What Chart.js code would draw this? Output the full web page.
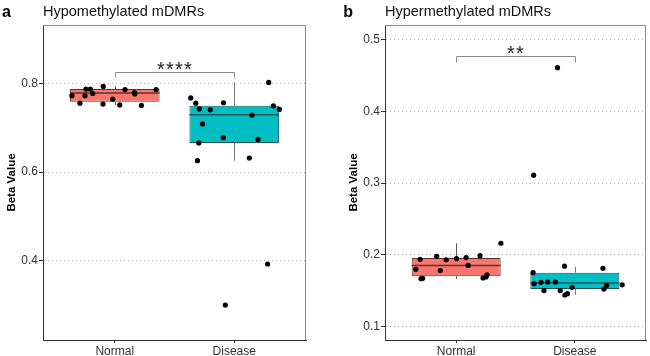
<!DOCTYPE html>
<html>
<head>
<meta charset="utf-8">
<script src="https://cdn.jsdelivr.net/npm/chart.js@4.4.1/dist/chart.umd.min.js"></script>
<style>
  html, body { margin: 0; padding: 0; background: #fff; }
  .panel { position: absolute; top: 0; width: 325px; height: 356px; }
</style>
</head>
<body>
<div class="panel" style="left:0"><canvas id="chartA" width="325" height="356"></canvas></div>
<div class="panel" style="left:325px"><canvas id="chartB" width="325" height="356"></canvas></div>
<script>
// ---------- shared ----------
const categories = ['Normal', 'Disease'];

// ---------- panel a : Hypomethylated ----------
const aLetter = 'a';
const aTitle = 'Hypomethylated mDMRs';
const aNormalValues  = [0.773, 0.756, 0.788, 0.788, 0.773, 0.778, 0.794, 0.754, 0.765, 0.752, 0.787, 0.780, 0.777, 0.751, 0.787];
const aNormalJitter  = [-0.358, -0.291, -0.241, -0.204, -0.249, -0.184, -0.096, -0.098, -0.017, 0.042, 0.086, 0.164, 0.168, 0.223, 0.346];
const aDiseaseValues = [0.768, 0.756, 0.743, 0.709, 0.666, 0.626, 0.741, 0.757, 0.678, 0.299, 0.729, 0.632, 0.674, 0.803, 0.750, 0.742, 0.392];
const aDiseaseJitter = [-0.364, -0.322, -0.293, -0.266, -0.297, -0.308, -0.201, -0.090, -0.092, -0.075, 0.148, 0.126, 0.198, 0.288, 0.327, 0.377, 0.279];
const aWhiskerLow  = [0.751, 0.626];
const aQ1          = [0.759, 0.666];
const aMedian      = [0.779, 0.730];
const aQ3          = [0.788, 0.750];
const aWhiskerHigh = [0.794, 0.803];
const aYTicks = [0.4, 0.6, 0.8];
const aYRange = [0.22, 0.933];
const aSigLabel = '****';
const aBracket = [0.827, 0.814]; // bar level, leg end

// ---------- panel b : Hypermethylated ----------
const bLetter = 'b';
const bTitle = 'Hypermethylated mDMRs';
const bNormalValues  = [0.1796, 0.1936, 0.1665, 0.167, 0.1977, 0.178, 0.193, 0.1944, 0.196, 0.185, 0.1986, 0.1675, 0.169, 0.172, 0.216];
const bNormalJitter  = [-0.340, -0.304, -0.296, -0.282, -0.164, -0.134, -0.084, 0.003, 0.084, 0.101, 0.201, 0.226, 0.251, 0.260, 0.377];
const bDiseaseValues = [0.311, 0.175, 0.1596, 0.1615, 0.150, 0.162, 0.162, 0.150, 0.1438, 0.1456, 0.184, 0.1545, 0.181, 0.152, 0.157, 0.158, 0.461];
const bDiseaseJitter = [-0.347, -0.352, -0.343, -0.285, -0.260, -0.229, -0.165, -0.123, -0.084, -0.062, -0.087, -0.023, 0.237, 0.245, 0.268, 0.399, -0.146];
const bWhiskerLow  = [0.1665, 0.144];
const bQ1          = [0.170, 0.152];
const bMedian      = [0.185, 0.1605];
const bQ3          = [0.1954, 0.175];
const bWhiskerHigh = [0.216, 0.183];
const bYTicks = [0.1, 0.2, 0.3, 0.4, 0.5];
const bYRange = [0.081, 0.5205];
const bSigLabel = '**';
const bBracket = [0.477, 0.468];

// ---------- styling ----------
const FONT = "'Liberation Sans', Arial, Helvetica, sans-serif";
const boxFill = ['#F8766D', '#00BFC4'];
const boxEdge = ['#5b3431', '#1f5556'];
const whiskerColor = ['#555555', '#777777'];

function makePanel(canvasId, p) {
  const boxPlugin = {
    id: 'boxParts',
    beforeDatasetsDraw(chart) {
      const {ctx, chartArea, scales: {x, y}} = chart;
      ctx.save();
      // top & right frame
      ctx.strokeStyle = '#8c8c8c';
      ctx.lineWidth = 1;
      ctx.beginPath();
      ctx.moveTo(chartArea.left, chartArea.top + 0.5);
      ctx.lineTo(chartArea.right - 0.5, chartArea.top + 0.5);
      ctx.lineTo(chartArea.right - 0.5, chartArea.bottom);
      ctx.stroke();
      // whiskers
      for (let i = 0; i < categories.length; i++) {
        const px = Math.round(x.getPixelForValue(i + 1)) + 0.5;
        ctx.strokeStyle = whiskerColor[i];
        ctx.lineWidth = 1;
        ctx.beginPath();
        ctx.moveTo(px, y.getPixelForValue(p.whiskerHigh[i]));
        ctx.lineTo(px, y.getPixelForValue(p.q3[i]));
        ctx.moveTo(px, y.getPixelForValue(p.q1[i]));
        ctx.lineTo(px, y.getPixelForValue(p.whiskerLow[i]));
        ctx.stroke();
      }
      // significance bracket
      const x1 = Math.round(x.getPixelForValue(1)) + 0.5;
      const x2 = Math.round(x.getPixelForValue(2)) + 0.5;
      const yb = Math.round(y.getPixelForValue(p.bracket[0])) + 0.5;
      const yl = y.getPixelForValue(p.bracket[1]);
      ctx.strokeStyle = '#8c8c8c';
      ctx.beginPath();
      ctx.moveTo(x1, yl); ctx.lineTo(x1, yb); ctx.lineTo(x2, yb); ctx.lineTo(x2, yl);
      ctx.stroke();
      ctx.fillStyle = '#222';
      ctx.font = '20px ' + FONT;
      if ('letterSpacing' in ctx) ctx.letterSpacing = '1.2px';
      ctx.textAlign = 'center';
      ctx.textBaseline = 'alphabetic';
      ctx.fillText(p.sig, (x1 + x2) / 2, yb + 3);
      ctx.restore();
    },
    afterDatasetDraw(chart, args) {
      if (args.index !== 0) return;
      const {ctx, scales: {x, y}} = chart;
      const meta = chart.getDatasetMeta(0);
      ctx.save();
      for (let i = 0; i < categories.length; i++) {
        const bar = meta.data[i];
        const half = bar.width / 2;
        const py = y.getPixelForValue(p.median[i]);
        ctx.strokeStyle = boxEdge[i];
        ctx.lineWidth = 1.6;
        ctx.beginPath();
        ctx.moveTo(bar.x - half, py);
        ctx.lineTo(bar.x + half, py);
        ctx.stroke();
      }
      ctx.restore();
    },
    afterDraw(chart) {
      const {ctx} = chart;
      ctx.save();
      ctx.fillStyle = '#000';
      ctx.font = 'bold 16px ' + FONT;
      ctx.textAlign = 'left';
      ctx.textBaseline = 'alphabetic';
      ctx.fillText(p.letter, p.letterX, 17.3);
      ctx.restore();
    }
  };

  const toPoints = (vals, jit, idx) => vals.map((v, k) => ({x: idx + 1 + jit[k], y: v}));

  return new Chart(document.getElementById(canvasId), {
    data: {
      datasets: [
        {
          type: 'bar',
          data: categories.map((c, i) => ({x: i + 1, y: [p.q1[i], p.q3[i]]})),
          backgroundColor: boxFill,
          borderColor: boxEdge,
          borderWidth: 1,
          borderSkipped: false,
          categoryPercentage: 0.75,
          barPercentage: 1.0,
          grouped: false,
          order: 2
        },
        {
          type: 'scatter',
          data: toPoints(p.normalValues, p.normalJitter, 0)
                  .concat(toPoints(p.diseaseValues, p.diseaseJitter, 1)),
          backgroundColor: '#000',
          borderColor: '#000',
          pointRadius: 2.6,
          borderWidth: 0,
          order: 1
        }
      ]
    },
    options: {
      responsive: false,
      animation: false,
      layout: {padding: {left: 0, right: p.padRight, top: 0, bottom: 0}},
      plugins: {
        legend: {display: false},
        tooltip: {enabled: false},
        title: {
          display: true,
          text: p.title,
          align: 'start',
          fullSize: false,
          color: '#111',
          font: {family: FONT, size: 14.5, weight: 'normal', lineHeight: 1.2},
          padding: {top: 3.6, bottom: 4}
        }
      },
      scales: {
        x: {
          type: 'linear',
          offset: false,
          min: 0.4,
          max: 2.6,
          afterFit(s) { s.height = 16; },
          afterBuildTicks(s) { s.ticks = categories.map((c, i) => ({value: i + 1})); },
          ticks: {
            callback: (v) => categories[Math.round(v) - 1],
            color: '#333',
            font: {family: FONT, size: 12},
            padding: 1,
            maxRotation: 0,
            autoSkip: false
          },
          grid: {display: true, offset: false, drawOnChartArea: false, drawTicks: true, tickLength: 3, tickColor: '#333'},
          border: {display: true, color: '#333', width: 1}
        },
        y: {
          type: 'linear',
          min: p.yRange[0],
          max: p.yRange[1],
          afterFit(s) { s.width = p.yWidth; },
          afterBuildTicks(s) { s.ticks = p.yTicks.map(v => ({value: v})); },
          ticks: {
            callback: (v) => v.toFixed(1),
            color: '#333',
            font: {family: FONT, size: 12},
            padding: 1
          },
          grid: {
            color: '#b5b5b5',
            lineWidth: 1,
            tickLength: 4,
            tickColor: '#333',
            tickBorderDash: [],
            drawTicks: true
          },
          border: {display: true, color: '#333', width: 1, dash: [1, 3]},
          title: {
            display: true,
            text: 'Beta Value',
            color: '#000',
            font: {family: FONT, size: 11.5, weight: 'bold', lineHeight: 1.2},
            padding: {top: p.titlePad, bottom: 0}
          }
        }
      }
    },
    plugins: [boxPlugin]
  });
}

makePanel('chartA', {
  letter: aLetter, letterX: 2, title: aTitle,
  normalValues: aNormalValues, normalJitter: aNormalJitter,
  diseaseValues: aDiseaseValues, diseaseJitter: aDiseaseJitter,
  whiskerLow: aWhiskerLow, q1: aQ1, median: aMedian, q3: aQ3, whiskerHigh: aWhiskerHigh,
  yTicks: aYTicks, yRange: aYRange, sig: aSigLabel, bracket: aBracket,
  yWidth: 43, padRight: 19, titlePad: 4.6
});
makePanel('chartB', {
  letter: bLetter, letterX: 18.3, title: bTitle,
  normalValues: bNormalValues, normalJitter: bNormalJitter,
  diseaseValues: bDiseaseValues, diseaseJitter: bDiseaseJitter,
  whiskerLow: bWhiskerLow, q1: bQ1, median: bMedian, q3: bQ3, whiskerHigh: bWhiskerHigh,
  yTicks: bYTicks, yRange: bYRange, sig: bSigLabel, bracket: bBracket,
  yWidth: 60, padRight: 4, titlePad: 22
});
</script>
</body>
</html>
